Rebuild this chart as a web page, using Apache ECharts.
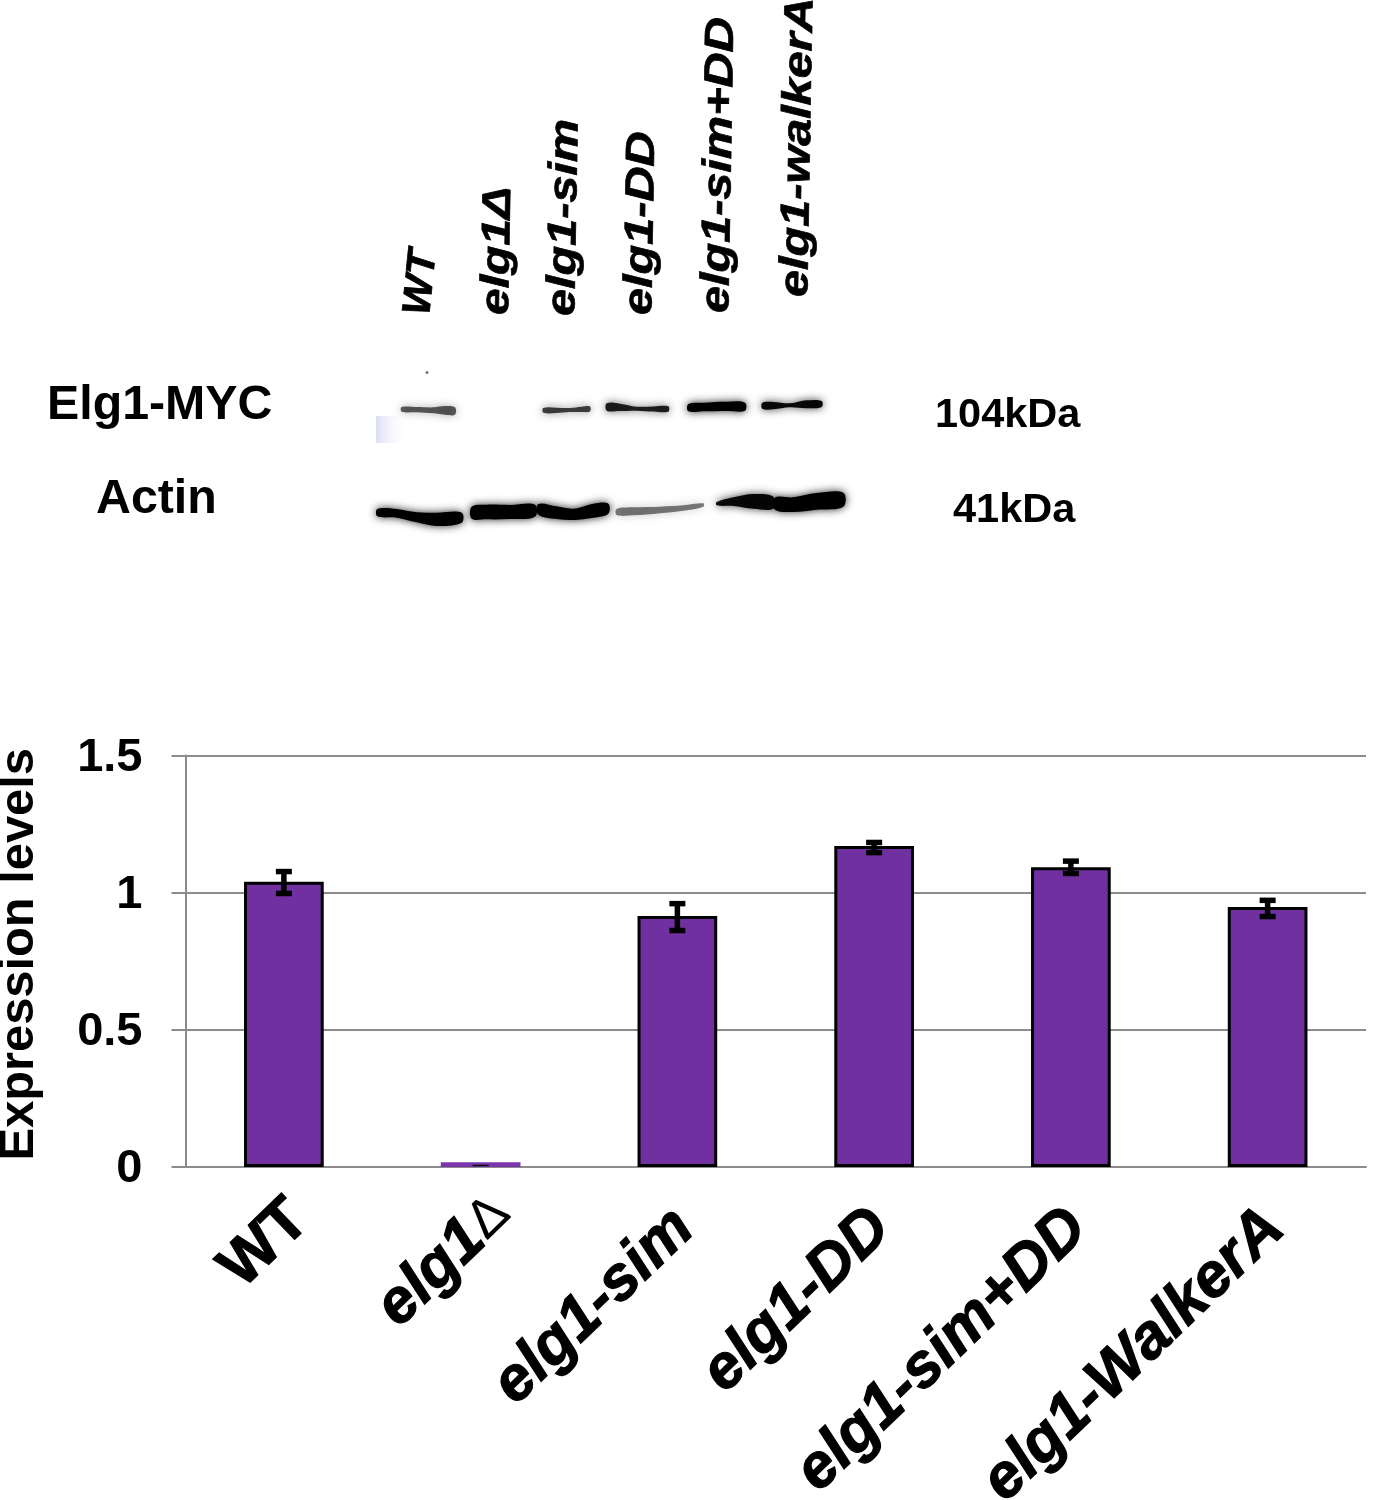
<!DOCTYPE html>
<html><head><meta charset="utf-8">
<style>html,body{margin:0;padding:0;background:#fff}#c{width:1391px;height:1500px}</style>
<script src="https://cdn.jsdelivr.net/npm/echarts@6/dist/echarts.min.js"></script>
</head><body><div id="c"></div>
<script>
const categories = ['WT','elg1Δ','elg1-sim','elg1-DD','elg1-sim+DD','elg1-WalkerA'];
const expression = [1.04,0.017,0.915,1.17,1.093,0.948];
const errLow = [0.997,0.003,0.862,1.146,1.07,0.913];
const errHigh = [1.077,0.008,0.96,1.183,1.115,0.972];
const yTicks = {min:0,max:1.5,step:0.5};
const laneLabels = ['WT','elg1Δ','elg1-sim','elg1-DD','elg1-sim+DD','elg1-walkerA'];
const laneAnchors = [[418,315,84,42],[497,315,89,48],[563,316,89,48.6],[640,315,89,48.6],[717,313,89,48.6],[796,297,89,48.6]];
const FONT = '"Liberation Sans",Arial,sans-serif';
const PURPLE = '#7030a0';

// Western-blot bands: outlines from the photograph, as [x,yCentre,height] in 3x crop units
const myc = [
 {o:.62,p:[[125,178,14],[170,179,16],[220,181,18],[255,181,26],[285,183,22]]},
 {o:.72,p:[[550,181,14],[590,181,16],[630,180,12],[665,178,16],[690,177,15]]},
 {o:.85,p:[[740,171,22],[780,172,22],[830,176,12],[880,177,15],[925,177,16]]},
 {o:1,p:[[985,173,22],[1030,171,26],[1100,169,28],[1155,170,24]]},
 {o:.95,p:[[1207,167,18],[1240,167,22],[1290,166,12],[1340,163,24],[1385,162,18]]}
];
const actin = [
 {o:1,p:[[52,488,22],[110,490,26],[170,502,30],[230,508,40],[305,503,30]]},
 {o:1,p:[[335,488,36],[380,486,44],[450,486,42],[525,482,36]]},
 {o:1,p:[[535,478,32],[590,488,38],[640,493,34],[700,482,42],[745,476,30]]},
 {o:.5,p:[[770,486,18],[820,484,24],[900,480,20],[970,474,16],[1030,465,10]]},
 {o:.95,p:[[1070,461,10],[1120,455,26],[1180,454,44],[1240,458,36]]},
 {o:1,p:[[1245,461,36],[1300,464,44],[1370,454,50],[1450,449,42]]}
];
const zx = x => 360 + x/3, zy = y => 350 + y/3;
function bandShape(b){
  const top = b.p.map(q=>[zx(q[0]),zy(q[1]-q[2]/2)]);
  const bot = b.p.slice().reverse().map(q=>[zx(q[0]),zy(q[1]+q[2]/2)]);
  return {type:'polygon',silent:true,z:5,shape:{points:top.concat(bot),smooth:0.35},
    style:{fill:'rgba(0,0,0,'+b.o+')',shadowBlur:9,shadowColor:'rgba(0,0,0,'+(b.o*0.85)+')'}};
}
function txt(t,x,y,size,extra){
  return Object.assign({type:'text',x,y,silent:true,z:6,style:{text:t,font:'bold '+size+'px '+FONT,fill:'#000',textAlign:'left',textVerticalAlign:'middle'}},extra||{});
}
const graphics = [];
myc.concat(actin).forEach(b=>graphics.push(bandShape(b)));
graphics.push({type:'rect',silent:true,z:4,shape:{x:376,y:416,width:32,height:27},
  style:{fill:{type:'linear',x:0,y:0,x2:1,y2:0,colorStops:[{offset:0,color:'rgba(214,214,246,.85)'},{offset:1,color:'rgba(255,255,255,0)'}]}}});
graphics.push({type:'circle',silent:true,z:5,shape:{cx:427,cy:372.5,r:1.5},style:{fill:'#777'}});
graphics.push(txt('Elg1-MYC',47,406,48.3));
graphics.push(txt('Actin',96,500,48.3));
graphics.push(txt('104kDa',935,416,41.5));
graphics.push(txt('41kDa',953,511,41.5));
laneLabels.forEach((t,i)=>{
  const a = laneAnchors[i];
  graphics.push({type:'text',x:a[0],y:a[1],rotation:a[2]*Math.PI/180,scaleY:i===0?0.95:0.84,silent:true,z:6,
    style:{text:t,font:'italic bold '+a[3]+'px '+FONT,fill:'#000',stroke:'#000',lineWidth:0.8,textAlign:'left',textVerticalAlign:'middle'}});
});

const strong = {textBorderColor:'#000',textBorderWidth:1.2};
const italicLabel = {fontFamily:FONT,fontWeight:'bold',fontStyle:'italic',fontSize:62,color:'#000'};
const option = {
  animation:false,
  backgroundColor:'#fff',
  grid:{left:185.5,right:25,top:755.5,bottom:333,containLabel:false,outerBoundsMode:'none'},
  xAxis:{type:'category',data:categories,
    axisTick:{show:false},
    axisLine:{lineStyle:{color:'#8c8c8c',width:2}},
    axisLabel:{rotate:44,interval:0,margin:16,color:'#000',hideOverlap:false,verticalAlign:'top',
      formatter:v=>v==='WT'?'{n|WT}':(v.endsWith('Δ')?'{e|elg1}{d|Δ}':'{i|'+v+'}'),
      rich:{
        n:Object.assign({fontFamily:FONT,fontWeight:'bold',fontSize:62,color:'#000',padding:[0,8,0,0]},strong),
        e:Object.assign({},italicLabel,strong),
        i:Object.assign({},italicLabel,strong,{padding:[0,20,0,0]}),
        d:{fontFamily:FONT,fontWeight:'normal',fontSize:54,color:'#000'}
      }}},
  yAxis:{type:'value',min:yTicks.min,max:yTicks.max,interval:yTicks.step,
    name:'Expression levels',nameLocation:'middle',nameGap:141,nameRotate:90,nameMoveOverlap:false,
    nameTextStyle:{fontFamily:FONT,fontWeight:'bold',fontSize:48.8,color:'#000',padding:[0,0,0,14]},
    axisLine:{show:true,lineStyle:{color:'#8c8c8c',width:2}},
    axisTick:{show:true,length:14,lineStyle:{color:'#8c8c8c',width:2}},
    splitLine:{lineStyle:{color:'#8c8c8c',width:2}},
    axisLabel:{margin:43,formatter:v=>'{v|'+v+'}',
      rich:{v:{fontFamily:FONT,fontWeight:'bold',fontSize:47,color:'#000',padding:[5,0,0,0]}}}},
  series:[
   {type:'bar',barWidth:'40.5%',
    data:expression.map((v,i)=>i===1?{value:v,itemStyle:{borderWidth:0,color:'#7a35ad'}}:v),
    itemStyle:{color:PURPLE,borderColor:'#000',borderWidth:3},z:3},
   {type:'custom',z:4,data:categories.map((c,i)=>[i,errLow[i],errHigh[i]]),
    encode:{x:0,y:[1,2]},
    renderItem(params,api){
      const lo=api.coord([api.value(0),api.value(1)]), hi=api.coord([api.value(0),api.value(2)]);
      const st={stroke:'#000',lineWidth:5.5,fill:'none'};
      const cap=8, thin=params.dataIndex===1;
      if(thin) return {type:'rect',shape:{x:lo[0]-8,y:hi[1],width:16,height:lo[1]-hi[1]},style:{fill:'#000'}};
      return {type:'group',children:[
        {type:'line',shape:{x1:lo[0],y1:lo[1],x2:hi[0],y2:hi[1]},style:st},
        {type:'line',shape:{x1:lo[0]-cap,y1:lo[1],x2:lo[0]+cap,y2:lo[1]},style:st},
        {type:'line',shape:{x1:hi[0]-cap,y1:hi[1],x2:hi[0]+cap,y2:hi[1]},style:st}
      ]};
    }}
  ],
  graphic:graphics
};
echarts.init(document.getElementById('c'),null,{renderer:'canvas'}).setOption(option);
</script></body></html>
